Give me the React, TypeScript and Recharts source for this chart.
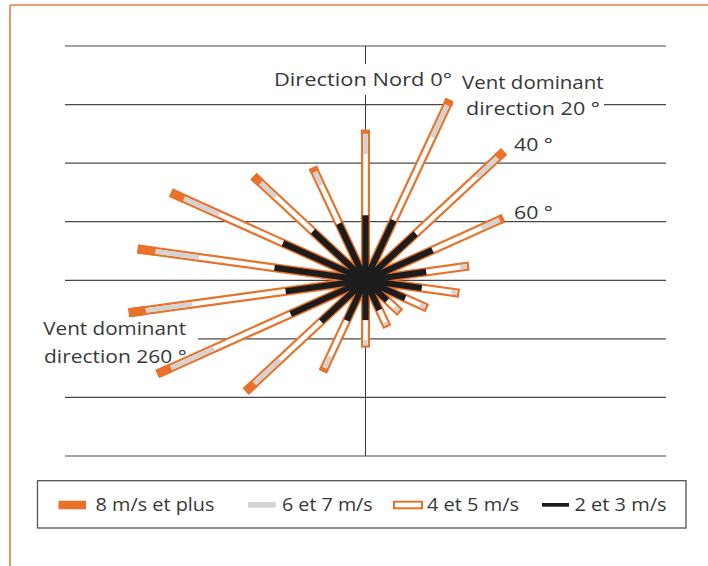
import React from "react";
import {
  ComposedChart,
  XAxis,
  YAxis,
  CartesianGrid,
  ReferenceLine,
  ReferenceDot,
  Scatter,
} from "recharts";

// one spoke every 20°, measured clockwise from north
const DIRECTIONS = [0, 20, 40, 60, 80, 100, 120, 140, 160, 180, 200, 220, 240, 260, 280, 300, 320, 340];
// length of each speed class along its spoke (chart units, one grid step = 10)
const SPEED_2_3 = [11.1, 10.9, 10.4, 10.3, 8.2, 7.6, 6.1, 4.5, 5.4, 6.8, 7.3, 9.2, 11.5, 10.8, 12.3, 12.7, 10.9, 10.3];
const SPEED_4_5 = [10.4, 15.1, 12.6, 7.5, 4.6, 4.0, 2.3, 1.5, 2.2, 3.4, 6.5, 8.5, 11.8, 12.6, 10.2, 9.8, 7.7, 7.0];
const SPEED_6_7 = [3.5, 5.8, 4.3, 2.8, 1.2, 1.1, 1.1, 1.2, 0.9, 1.3, 2.1, 5.3, 6.6, 6.3, 5.9, 5.4, 3.1, 2.4];
const SPEED_8_PLUS = [0.7, 1.0, 1.4, 0.6, 0, 0, 0, 0, 0, 0, 0.7, 1.8, 2.1, 2.3, 2.4, 2.0, 1.5, 0.8];
const GRID_Y = [-30, -20, -10, 0, 10, 20, 30, 40];

const LEGEND = [
  { label: "8 m/s et plus", kind: "tip" },
  { label: "6 et 7 m/s", kind: "gray" },
  { label: "4 et 5 m/s", kind: "outline" },
  { label: "2 et 3 m/s", kind: "black" },
];

const ORANGE = "#E8722A";
const GRAY = "#D3D3D3";
const BLACK = "#1C1C1C";
const TEXT = "#383838";
const FONT = "'Open Sans', sans-serif";

const PLOT_W = 601;
const PLOT_H = 410;
const X_DOMAIN: [number, number] = [-40, 40];
const Y_DOMAIN: [number, number] = [-30, 40];
const X_PX = PLOT_W / (X_DOMAIN[1] - X_DOMAIN[0]);
const Y_PX = PLOT_H / (Y_DOMAIN[1] - Y_DOMAIN[0]);

function pt(r: number, deg: number) {
  const t = (deg * Math.PI) / 180;
  return { x: r * Math.sin(t), y: r * Math.cos(t) };
}

function seg(r0: number, r1: number, deg: number) {
  return [pt(r0, deg), pt(r1, deg)];
}

const spokes = DIRECTIONS.map((deg, i) => {
  const a = SPEED_2_3[i];
  const b = a + SPEED_4_5[i];
  const c = b + SPEED_6_7[i];
  const d = c + SPEED_8_PLUS[i];
  const t = (deg * Math.PI) / 180;
  const pxPerUnit = Math.hypot(X_PX * Math.sin(t), Y_PX * Math.cos(t));
  const inset = 2.3 / pxPerUnit;
  return { deg, a, b, c, d, inset };
});

function WindRose() {
  const lines: React.ReactNode[] = [];
  spokes.forEach((s) => {
    lines.push(
      <ReferenceLine key={`o${s.deg}`} segment={seg(0, s.d, s.deg)} stroke={ORANGE} strokeWidth={9} ifOverflow="visible" />,
      <ReferenceLine key={`w${s.deg}`} segment={seg(0, s.d - s.inset, s.deg)} stroke="#fff" strokeWidth={4.6} ifOverflow="visible" />,
      <ReferenceLine key={`g${s.deg}`} segment={seg(s.b, Math.min(s.c, s.d - s.inset), s.deg)} stroke={GRAY} strokeWidth={4.6} ifOverflow="visible" />
    );
    if (s.d > s.c) {
      lines.push(
        <ReferenceLine key={`t${s.deg}`} segment={seg(s.c, s.d, s.deg)} stroke={ORANGE} strokeWidth={9} ifOverflow="visible" />
      );
    }
  });
  spokes.forEach((s) => {
    lines.push(
      <ReferenceLine key={`b${s.deg}`} segment={seg(0, s.a, s.deg)} stroke={BLACK} strokeWidth={6.2} ifOverflow="visible" />
    );
  });

  return (
    <ComposedChart
      width={PLOT_W + 10}
      height={PLOT_H + 10}
      margin={{ top: 5, right: 5, bottom: 5, left: 5 }}
    >
      <XAxis type="number" dataKey="x" domain={X_DOMAIN} hide />
      <YAxis type="number" dataKey="y" domain={Y_DOMAIN} ticks={GRID_Y} hide />
      <CartesianGrid vertical={false} stroke="#4a4a4a" strokeWidth={1.2} />
      <ReferenceLine x={0} stroke="#3a3a3a" strokeWidth={1} />
      <Scatter data={[{ x: 0, y: 0 }]} fill="none" isAnimationActive={false} />
      {lines}
      <ReferenceDot x={0} y={0} r={13} fill={BLACK} stroke="none" ifOverflow="visible" />
    </ComposedChart>
  );
}

function Label({ x, y, w, children }: { x: number; y: number; w: number; children: string }) {
  return (
    <text x={x} y={y} textLength={w} lengthAdjust="spacingAndGlyphs" fontSize={19} fill={TEXT} fontFamily={FONT}>
      {children}
    </text>
  );
}

function Overlay() {
  const swatchX = [58.5, 248, 393, 542];
  const textX = [95.5, 282, 427, 574.5];
  const textW = [119, 90.7, 92, 92];
  return (
    <svg width={708} height={566} style={{ position: "absolute", left: 0, top: 0 }}>
      <line x1={10} y1={5} x2={708} y2={5} stroke="#EE7C3A" strokeWidth={1.6} />
      <line x1={10} y1={5} x2={10} y2={566} stroke="#EE7C3A" strokeWidth={1.6} />

      <rect x={270} y={64} width={184} height={31} fill="#fff" />
      <Label x={274} y={86} w={178}>Direction Nord 0°</Label>

      <rect x={453} y={66} width={151} height={54} fill="#fff" />
      <Label x={462} y={89.3} w={141.6}>Vent dominant</Label>
      <Label x={466} y={114.5} w={134}>direction 20 °</Label>

      <Label x={514} y={150.5} w={39}>40 °</Label>
      <Label x={514} y={219} w={39}>60 °</Label>

      <rect x={36} y={319} width={162} height={23} fill="#fff" />
      <Label x={43.3} y={335} w={142.7}>Vent dominant</Label>
      <Label x={44} y={362.7} w={142.7}>direction 260 °</Label>

      <rect x={37.5} y={480.7} width={648.5} height={47.3} fill="none" stroke="#555" strokeWidth={1.3} />
      {LEGEND.map((item, i) => {
        const sx = swatchX[i];
        let swatch: React.ReactNode = null;
        if (item.kind === "tip") swatch = <rect x={sx} y={500.7} width={27.5} height={8.6} fill={ORANGE} />;
        if (item.kind === "gray") swatch = <rect x={sx} y={502} width={27.6} height={5.7} fill={GRAY} />;
        if (item.kind === "outline")
          swatch = (
            <g>
              <rect x={sx} y={500.7} width={30} height={8.6} fill={ORANGE} />
              <rect x={sx + 2} y={502.7} width={26} height={4.6} fill="#fff" />
            </g>
          );
        if (item.kind === "black") swatch = <rect x={sx} y={503} width={27} height={3.7} fill={BLACK} />;
        return (
          <g key={item.label}>
            {swatch}
            <Label x={textX[i]} y={510.7} w={textW[i]}>{item.label}</Label>
          </g>
        );
      })}
    </svg>
  );
}

export default function App() {
  return (
    <div style={{ position: "absolute", left: 0, top: 0, width: 708, height: 566, background: "#fff" }}>
      <div style={{ position: "absolute", left: 60, top: 41 }}>
        <WindRose />
      </div>
      <Overlay />
    </div>
  );
}
